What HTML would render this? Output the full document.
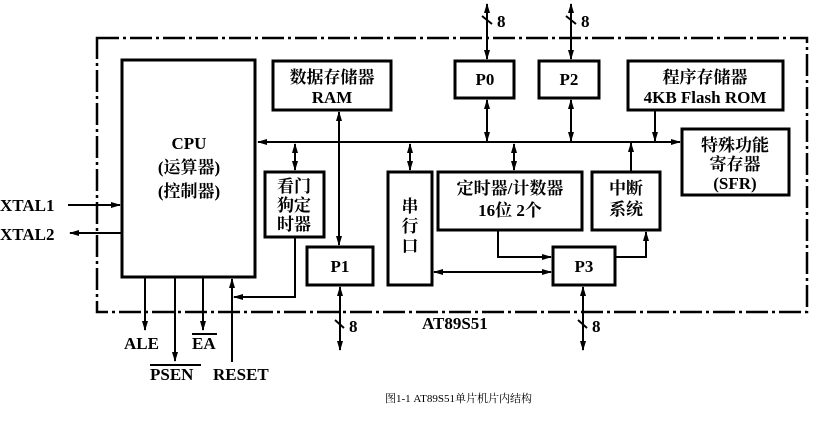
<!DOCTYPE html>
<html><head><meta charset="utf-8"><style>
body{margin:0;background:#fff;width:817px;height:439px;overflow:hidden}
text{font-family:"Liberation Serif","Noto Serif CJK SC",serif;font-weight:bold;fill:#000}
</style></head><body>
<svg width="817" height="439" viewBox="0 0 817 439" xmlns="http://www.w3.org/2000/svg">
<defs>
<marker id="a" markerWidth="10" markerHeight="8" refX="9" refY="4" orient="auto-start-reverse" markerUnits="userSpaceOnUse"><path d="M0,1 L10,4 L0,7 Z" fill="#000"/></marker>
</defs>
<g fill="none" stroke="#000">
<rect x="97" y="38" width="710" height="274" stroke-width="2.5" stroke-dasharray="22,4,3,4"/>
<g stroke-width="3">
<rect x="122" y="60" width="133" height="217"/>
<rect x="273" y="61" width="118" height="49"/>
<rect x="455" y="61" width="59" height="37"/>
<rect x="539" y="61" width="60" height="37"/>
<rect x="628" y="61" width="155" height="49"/>
<rect x="682" y="129" width="107" height="66"/>
<rect x="265" y="172" width="59" height="65"/>
<rect x="388" y="172" width="44" height="113"/>
<rect x="438" y="172" width="144" height="58"/>
<rect x="592" y="172" width="68" height="58"/>
<rect x="307" y="247" width="66" height="38"/>
<rect x="553" y="247" width="62" height="38"/>
</g>
<g stroke-width="2">
<line x1="258" y1="142" x2="680" y2="142" marker-start="url(#a)" marker-end="url(#a)"/>
<line x1="339" y1="112" x2="339" y2="245" marker-start="url(#a)" marker-end="url(#a)"/>
<line x1="295" y1="144" x2="295" y2="170" marker-start="url(#a)" marker-end="url(#a)"/>
<line x1="410" y1="144" x2="410" y2="170" marker-start="url(#a)" marker-end="url(#a)"/>
<line x1="514" y1="144" x2="514" y2="170" marker-start="url(#a)" marker-end="url(#a)"/>
<line x1="487" y1="100" x2="487" y2="141" marker-start="url(#a)" marker-end="url(#a)"/>
<line x1="571" y1="100" x2="571" y2="141" marker-start="url(#a)" marker-end="url(#a)"/>
<line x1="487" y1="4" x2="487" y2="59" marker-start="url(#a)" marker-end="url(#a)"/>
<line x1="571" y1="4" x2="571" y2="59" marker-start="url(#a)" marker-end="url(#a)"/>
<line x1="482" y1="16" x2="492" y2="24"/><line x1="566" y1="16" x2="576" y2="24"/>
<line x1="655" y1="110" x2="655" y2="141" marker-end="url(#a)"/>
<line x1="631" y1="172" x2="631" y2="143" marker-end="url(#a)"/>
<polyline points="498,230 498,257 551,257" marker-end="url(#a)"/>
<line x1="434" y1="272" x2="551" y2="272" marker-start="url(#a)" marker-end="url(#a)"/>
<polyline points="615,257 646,257 646,232" marker-end="url(#a)"/>
<line x1="340" y1="287" x2="340" y2="350" marker-start="url(#a)" marker-end="url(#a)"/>
<line x1="583" y1="287" x2="583" y2="350" marker-start="url(#a)" marker-end="url(#a)"/>
<line x1="335" y1="320" x2="344" y2="328"/><line x1="578" y1="320" x2="587" y2="328"/>
<polyline points="295,237 295,297 234,297" marker-end="url(#a)"/>
<line x1="145" y1="277" x2="145" y2="330" marker-end="url(#a)"/>
<line x1="175" y1="277" x2="175" y2="361" marker-end="url(#a)"/>
<line x1="203" y1="277" x2="203" y2="330" marker-end="url(#a)"/>
<line x1="232" y1="362" x2="232" y2="279" marker-end="url(#a)"/>
<line x1="68" y1="205" x2="120" y2="205" marker-end="url(#a)"/>
<line x1="122" y1="233" x2="70" y2="233" marker-end="url(#a)"/>
<line x1="150" y1="365" x2="201" y2="365"/>
<line x1="192" y1="334" x2="217" y2="334"/>
</g>
</g>
<g font-size="17" text-anchor="middle">
<text x="189" y="149">CPU</text>
<text x="189" y="173">(运算器)</text>
<text x="189" y="197">(控制器)</text>
<text x="332" y="83">数据存储器</text>
<text x="332" y="103">RAM</text>
<text x="485" y="85">P0</text>
<text x="569" y="85">P2</text>
<text x="705" y="83">程序存储器</text>
<text x="705" y="103">4KB Flash ROM</text>
<text x="735" y="151">特殊功能</text>
<text x="735" y="170">寄存器</text>
<text x="735" y="189">(SFR)</text>
<text x="294" y="192">看门</text>
<text x="294" y="211">狗定</text>
<text x="294" y="230">时器</text>
<text x="410" y="212">串</text>
<text x="410" y="232">行</text>
<text x="410" y="252">口</text>
<text x="510" y="194">定时器/计数器</text>
<text x="510" y="216">16位 2个</text>
<text x="626" y="194">中断</text>
<text x="626" y="215">系统</text>
<text x="340" y="272">P1</text>
<text x="584" y="272">P3</text>
</g>
<g font-size="17">
<text x="497" y="27">8</text><text x="581" y="27">8</text>
<text x="349" y="332">8</text><text x="592" y="332">8</text>
<text x="0" y="211">XTAL1</text>
<text x="0" y="240">XTAL2</text>
<text x="124" y="349">ALE</text>
<text x="192" y="349">EA</text>
<text x="150" y="380">PSEN</text>
<text x="213" y="380">RESET</text>
<text x="422" y="329">AT89S51</text>
</g>
<text x="385" y="402" font-size="11" style="font-weight:normal">图1-1 AT89S51单片机片内结构</text>
</svg>
</body></html>
